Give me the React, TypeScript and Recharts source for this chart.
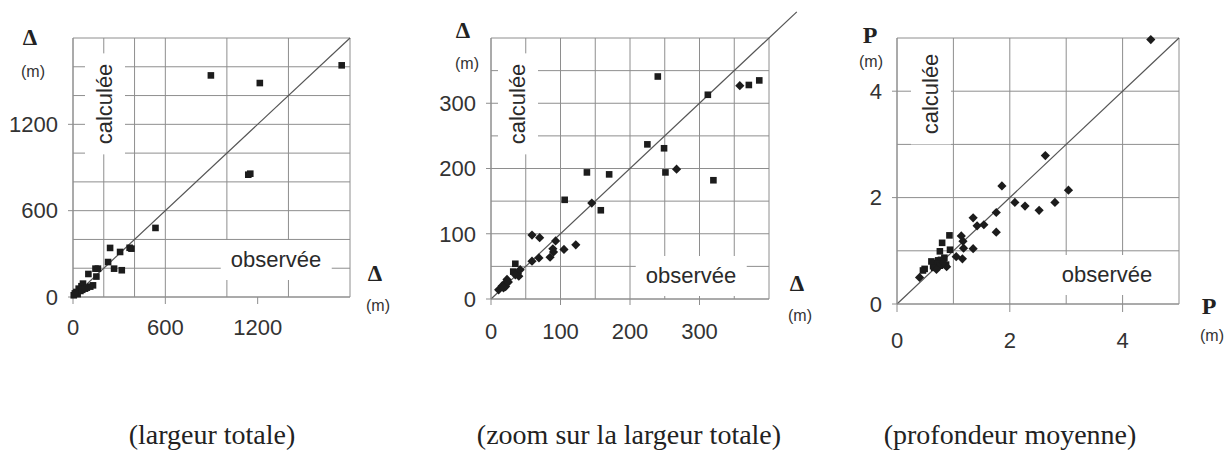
import React from 'react';
import { ScatterChart, Scatter, XAxis, YAxis, CartesianGrid, ReferenceLine } from 'recharts';

// largeur totale (m) : observée / calculée
const largeurObs = [896, 1214, 1746, 1139, 1152, 536, 380, 368, 241, 306, 228, 267, 317, 146, 162, 100, 152, 130, 112, 65, 55, 78, 37, 48, 22, 30, 12, 5, 90, 60];
const largeurCalc = [1540, 1487, 1610, 850, 857, 480, 336, 342, 341, 313, 243, 197, 186, 197, 197, 160, 142, 81, 72, 93, 75, 58, 58, 42, 35, 20, 25, 12, 65, 50];

// zoom sur la largeur totale : carrés et losanges
const zoomCarreObs = [240, 312, 371, 386, 225, 249, 251, 320, 138, 170, 106, 158, 35, 32];
const zoomCarreCalc = [341, 313, 328, 335, 237, 231, 194, 182, 194, 191, 152, 136, 54, 42];
const zoomLosangeObs = [358, 267, 145, 59, 70, 93, 89, 90, 105, 122, 85, 69, 59, 38, 40, 35, 42, 23, 20, 16, 21, 11, 25, 18];
const zoomLosangeCalc = [327, 199, 147, 98, 94, 89, 77, 72, 76, 83, 64, 63, 58, 39, 35, 37, 45, 30, 24, 20, 19, 14, 26, 17];

// profondeur moyenne (m)
const profCarreObs = [0.93, 0.80, 0.94, 0.76, 0.49, 0.46, 0.67, 0.61, 0.73, 0.81, 0.87, 0.70, 0.78, 0.64, 0.84, 0.72, 0.66, 0.76];
const profCarreCalc = [1.29, 1.15, 1.02, 0.99, 0.66, 0.63, 0.77, 0.80, 0.82, 0.77, 0.74, 0.71, 0.83, 0.71, 0.87, 0.76, 0.68, 0.72];
const profLosangeObs = [4.5, 2.63, 1.86, 3.04, 2.09, 2.27, 2.52, 2.8, 1.76, 1.76, 1.35, 1.42, 1.54, 1.35, 1.14, 1.17, 1.18, 1.05, 1.16, 0.4, 0.88, 0.7, 0.82];
const profLosangeCalc = [4.97, 2.79, 2.22, 2.14, 1.91, 1.84, 1.76, 1.91, 1.72, 1.35, 1.62, 1.47, 1.49, 1.04, 1.28, 1.18, 1.05, 0.89, 0.85, 0.5, 0.7, 0.65, 0.78];

const ticksLargeur = [0, 600, 1200];
const gridLargeur = [0, 200, 400, 600, 800, 1000, 1200, 1400, 1600, 1800];
const ticksZoom = [0, 100, 200, 300];
const gridZoom = [0, 50, 100, 150, 200, 250, 300, 350, 400];
const ticksProf = [0, 2, 4];
const gridProf = [0, 1, 2, 3, 4, 5];

const toPoints = (xs: number[], ys: number[]) => xs.map((x, i) => ({ x, y: ys[i] }));

const SANS = 'Liberation Sans, Arial, sans-serif';
const SERIF = 'Liberation Serif, Times New Roman, serif';
const GRID = '#8e8e8e';
const INK = '#1c1c1c';

const Square = (props: any) => (
  <rect x={props.cx - 3.3} y={props.cy - 3.3} width={6.6} height={6.6} fill={INK} />
);

const Diamond = (props: any) => {
  const { cx, cy } = props;
  return <polygon points={`${cx},${cy - 4.6} ${cx + 4.6},${cy} ${cx},${cy + 4.6} ${cx - 4.6},${cy}`} fill={INK} />;
};

interface PanelProps {
  left: number;
  width: number;
  height: number;
  right: number;
  yWidth: number;
  xHeight: number;
  max: number;
  lineEnd: number;
  ticks: number[];
  grid: number[];
  xTickSize: number;
  xTickMargin: number;
  squares: { x: number; y: number }[];
  diamonds: { x: number; y: number }[];
}

const Panel: React.FC<PanelProps> = (p) => {
  const tickStyle = { fontSize: 22, fill: '#333', fontFamily: SANS };
  return (
    <div style={{ position: 'absolute', left: p.left, top: 0 }}>
      <ScatterChart width={p.width} height={p.height} margin={{ top: 38, right: p.right, bottom: 0, left: 0 }}>
        <CartesianGrid stroke={GRID} horizontalValues={p.grid} verticalValues={p.grid} />
        <XAxis
          type="number"
          dataKey="x"
          domain={[0, p.max]}
          ticks={p.ticks}
          height={p.xHeight}
          tick={tickStyle}
          tickSize={p.xTickSize}
          tickMargin={p.xTickMargin}
          axisLine={{ stroke: GRID }}
          tickLine={{ stroke: GRID }}
        />
        <YAxis
          type="number"
          dataKey="y"
          domain={[0, p.max]}
          ticks={p.ticks}
          width={p.yWidth}
          tick={tickStyle}
          tickSize={5}
          tickMargin={10}
          axisLine={{ stroke: GRID }}
          tickLine={{ stroke: GRID }}
        />
        <ReferenceLine
          segment={[{ x: 0, y: 0 }, { x: p.lineEnd, y: p.lineEnd }]}
          stroke="#555"
          strokeWidth={1.2}
          ifOverflow="visible"
        />
        {p.squares.length > 0 && <Scatter data={p.squares} shape={Square} isAnimationActive={false} />}
        {p.diamonds.length > 0 && <Scatter data={p.diamonds} shape={Diamond} isAnimationActive={false} />}
      </ScatterChart>
    </div>
  );
};

const Txt: React.FC<{ x: number; y: number; size: number; serif?: boolean; bold?: boolean; children: React.ReactNode }> = ({ x, y, size, serif, bold, children }) => (
  <div
    style={{
      position: 'absolute',
      left: x,
      top: y,
      transform: 'translate(-50%, -50%)',
      fontSize: size,
      lineHeight: 1,
      fontFamily: serif ? SERIF : SANS,
      fontWeight: bold ? 'bold' : 'normal',
      color: serif && bold ? '#222' : '#333',
      whiteSpace: 'nowrap',
    }}
  >
    {children}
  </div>
);

const Tag: React.FC<{ x: number; y: number; rotate?: boolean; children: React.ReactNode }> = ({ x, y, rotate, children }) => (
  <div
    style={{
      position: 'absolute',
      left: x,
      top: y,
      transform: `translate(-50%, -50%)${rotate ? ' rotate(-90deg)' : ''}`,
      fontSize: 22,
      lineHeight: '24px',
      padding: '8px 10px',
      background: '#fff',
      fontFamily: SANS,
      color: '#2a2a2a',
      whiteSpace: 'nowrap',
    }}
  >
    {children}
  </div>
);

const Caption: React.FC<{ x: number; children: React.ReactNode }> = ({ x, children }) => (
  <div
    style={{
      position: 'absolute',
      left: x,
      top: 421,
      transform: 'translateX(-50%)',
      fontSize: 28,
      lineHeight: '28px',
      fontFamily: SERIF,
      color: '#222',
      whiteSpace: 'nowrap',
    }}
  >
    {children}
  </div>
);

export default function App() {
  return (
    <div style={{ position: 'absolute', left: 0, top: 0, width: 1228, height: 452, background: '#fff', overflow: 'hidden' }}>
      <Panel
        left={0}
        width={400}
        height={345}
        right={50}
        yWidth={73}
        xHeight={48}
        max={1800}
        lineEnd={1800}
        ticks={ticksLargeur}
        grid={gridLargeur}
        xTickSize={7}
        xTickMargin={15}
        squares={toPoints(largeurObs, largeurCalc)}
        diamonds={[]}
      />
      <Panel
        left={410}
        width={410}
        height={350}
        right={51}
        yWidth={81}
        xHeight={51}
        max={400}
        lineEnd={440}
        ticks={ticksZoom}
        grid={gridZoom}
        xTickSize={6}
        xTickMargin={18}
        squares={toPoints(zoomCarreObs, zoomCarreCalc)}
        diamonds={toPoints(zoomLosangeObs, zoomLosangeCalc)}
      />
      <Panel
        left={820}
        width={408}
        height={364}
        right={49}
        yWidth={77}
        xHeight={60}
        max={5}
        lineEnd={5}
        ticks={ticksProf}
        grid={gridProf}
        xTickSize={8}
        xTickMargin={20}
        squares={toPoints(profCarreObs, profCarreCalc)}
        diamonds={toPoints(profLosangeObs, profLosangeCalc)}
      />

      <Tag x={105} y={104} rotate>calculée</Tag>
      <Tag x={276} y={260}>observée</Tag>
      <Tag x={518} y={104} rotate>calculée</Tag>
      <Tag x={691} y={276}>observée</Tag>
      <Tag x={931} y={94} rotate>calculée</Tag>
      <Tag x={1107} y={275}>observée</Tag>

      <Txt x={30} y={37} size={23} serif bold>Δ</Txt>
      <Txt x={33} y={72} size={16}>(m)</Txt>
      <Txt x={375} y={273} size={23} serif bold>Δ</Txt>
      <Txt x={378} y={306} size={16}>(m)</Txt>

      <Txt x={463} y={30} size={23} serif bold>Δ</Txt>
      <Txt x={467} y={64} size={16}>(m)</Txt>
      <Txt x={797} y={283} size={23} serif bold>Δ</Txt>
      <Txt x={800} y={316} size={16}>(m)</Txt>

      <Txt x={870} y={35} size={24} serif bold>P</Txt>
      <Txt x={871} y={62} size={16}>(m)</Txt>
      <Txt x={1209} y={306} size={24} serif bold>P</Txt>
      <Txt x={1212} y={336} size={16}>(m)</Txt>

      <Caption x={212}>(largeur totale)</Caption>
      <Caption x={629}>(zoom sur la largeur totale)</Caption>
      <Caption x={1010}>(profondeur moyenne)</Caption>
    </div>
  );
}
